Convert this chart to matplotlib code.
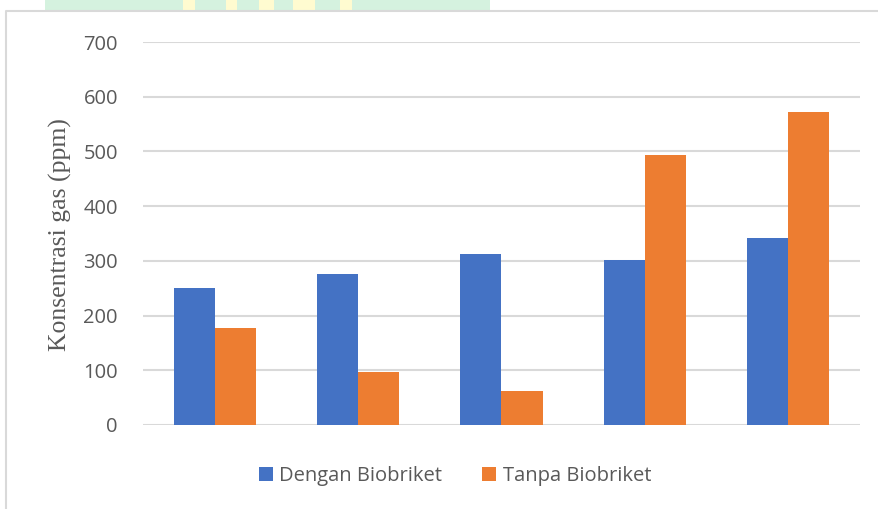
import matplotlib.pyplot as plt
import numpy as np
from matplotlib.patches import Rectangle
from matplotlib.lines import Line2D

# data
categories = ['', '', '', '', '']
dengan = [250, 276, 312, 301, 342]
tanpa = [178, 97, 62, 493, 572]
yticks = [0, 100, 200, 300, 400, 500, 600, 700]

BLUE = '#4472c4'
ORANGE = '#ed7d31'
GRID = '#d9d9d9'
TXT = '#595959'

W, H = 879, 509
fig = plt.figure(figsize=(W / 100, H / 100), dpi=100)

# outer chart frame (only top and left edge visible)
fig.add_artist(Line2D([6 / W, 6 / W, 1], [0, 1 - 11 / H, 1 - 11 / H],
                      transform=fig.transFigure, color=GRID, lw=1.5))

# scanned watermark strip at the top
fig.add_artist(Rectangle((45 / W, 1 - 11 / H), 445 / W, 11 / H,
                         transform=fig.transFigure, color='#d5f2df', lw=0))
for x0, w in [(183, 12), (226, 11), (259, 15), (293, 22), (340, 12)]:
    fig.add_artist(Rectangle((x0 / W, 1 - 11 / H), w / W, 11 / H,
                             transform=fig.transFigure, color='#fffbd0', lw=0))

ax = fig.add_axes([143 / W, 1 - 425 / H, 717 / W, 383 / H])
x = np.arange(len(categories))
bw = 0.286
ax.bar(x - bw / 2, dengan, bw, color=BLUE, label='Dengan Biobriket', zorder=3)
ax.bar(x + bw / 2, tanpa, bw, color=ORANGE, label='Tanpa Biobriket', zorder=3)

ax.set_xlim(-0.5, len(categories) - 0.5)
ax.set_ylim(0, 700)
ax.set_yticks(yticks)
ax.set_xticks([])
ax.yaxis.grid(True, color=GRID, lw=1.5, zorder=0)
ax.set_axisbelow(True)
for s in ax.spines.values():
    s.set_visible(False)
ax.tick_params(axis='y', length=0, pad=18, labelsize=14.5, labelcolor=TXT)
for lab in ax.get_yticklabels():
    lab.set_family('Open Sans')

fig.text(60 / W, 1 - 235 / H, 'Konsentrasi gas (ppm)', rotation=90,
         ha='center', va='center', fontsize=18.5, family='Liberation Serif',
         color=TXT)

fig.legend(loc='center', bbox_to_anchor=(455 / W, 1 - 476 / H), ncol=2,
           frameon=False, prop={'family': 'Open Sans', 'size': 14.5},
           labelcolor=TXT, handlelength=0.7, handleheight=0.7,
           handletextpad=0.3, columnspacing=2.0)

fig.savefig('out.png', dpi=100)
